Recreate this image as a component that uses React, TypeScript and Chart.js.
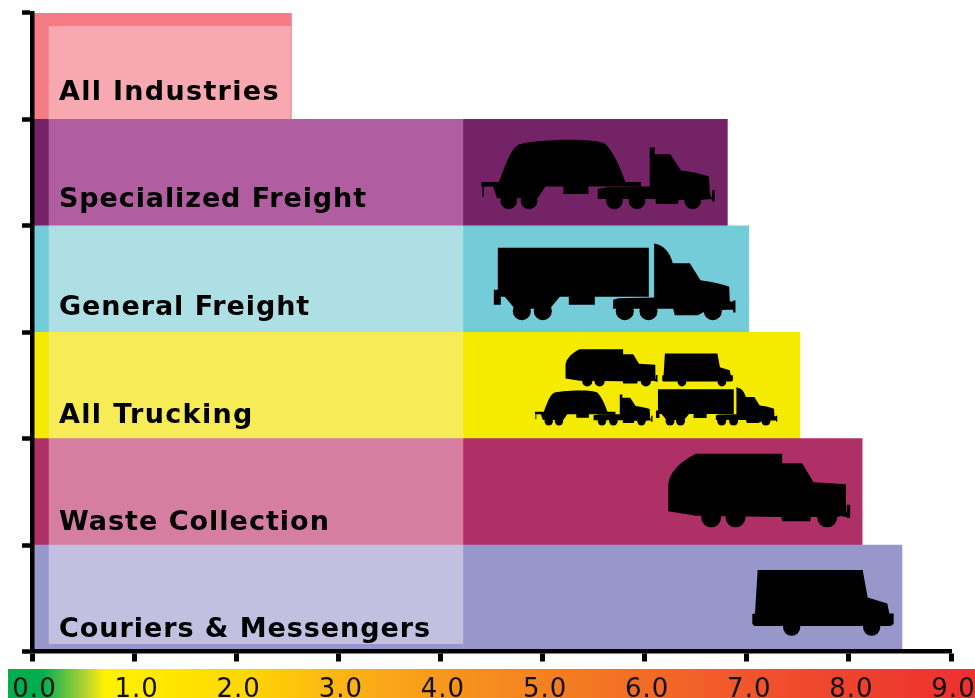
import React, { useEffect, useRef } from "react";
import { Chart, registerables } from "chart.js";

Chart.register(...registerables);

const categories = ["All Industries", "Specialized Freight", "General Freight", "All Trucking", "Waste Collection", "Couriers & Messengers"];
const rates = [2.54, 6.81, 7.02, 7.52, 8.13, 8.52];
const bandStart = [0.167, 0.167, 0.167, 0.167, 0.167, 0.167];
const bandEnd = [2.53, 4.22, 4.22, 4.22, 4.22, 4.22];
const darkColors = ["#F57C85", "#742366", "#74CCD9", "#F5EB00", "#AE3067", "#9797CB"];
const lightColors = ["#F7A8B0", "#B05E9F", "#AEDFE5", "#F7EC55", "#D57E9F", "#C2BFE0"];
const axisTicks = [0, 1, 2, 3, 4, 5, 6, 7, 8, 9];
const labelOffsets = [33.3, 34, 35.7, 37.4, 38.1, 38.8];
const labelSpacing = [1.3, 0.9, 0.93, 1.35, 1, 0.95];

const TANKER = `M115 187 C135 135 150 90 172 75 C200 60 400 50 435 72 C455 90 480 140 495 187 Z
M63 186 H542 V200 H63 Z M66 200 H71 V230 H66 Z M98 200 L110 235 L232 235 L255 200 Z M309 200 H384 V222 H309 Z
M568 83 H583 V103 H630 L662 152 C690 155 720 162 746 170 L748 215 L752 235 L738 238 L722 240 L655 240 L652 252 L587 252 L585 237 L412 237 L412 207 L440 202 L568 200 Z
M738 232 H758 V238 H738 Z M755 210 H763 V245 H755 Z`;
const TANKER_W = [[145, 243, 25], [206, 243, 25], [462, 243, 25], [530, 243, 25], [697, 243, 25]];
const BOX = `M114 384 H567 V531 H114 Z M102 510 H123 V555 H102 Z M135 531 L165 567 L270 567 L300 531 Z M327 531 H405 V555 H327 Z
M583 371 C610 375 630 395 639 430 L690 430 L722 481 C755 485 785 492 808 500 L810 545 L815 567 L800 570 L735 575 L714 586 L645 586 L640 567 L460 567 L460 540 L475 535 L583 533 Z
M800 545 H825 V570 H800 Z M820 542 H827 V578 H820 Z`;
const BOX_W = [[186, 574, 27], [249, 574, 27], [495, 574, 27], [566, 574, 27], [759, 574, 27]];
const GARBAGE = `M137 42 L396 42 L396 71 L456 71 L490 128 L587 134 L588 215 L592 225 L560 232 L482 232 L480 245 L396 245 L394 232 L138 228 L54 215 L54 135 C56 100 90 65 137 42 Z
M590 195 H600 V235 H590 Z M578 225 H595 V232 H578 Z`;
const GARBAGE_W = [[183, 233, 30], [256, 233, 30], [531, 233, 30]];
const VAN = `M323 390 L638 390 L653 472 L712 490 L718 520 L731 520 L731 552 L722 558 L313 558 L307 552 L307 522 L315 520 Z`;
const VAN_W = [[425, 561, 26], [665, 561, 26]];

// [row, outline, wheels, x from bar end, y from row top, scale]
const silhouettes: any[] = [
  [1, TANKER, TANKER_W, -267, 0.5, 1],
  [2, BOX, BOX_W, -289, -106, 1],
  [3, GARBAGE, GARBAGE_W, -243.4, 10, 0.505],
  [3, VAN, VAN_W, -188.8, -43.7, 0.5],
  [3, TANKER, TANKER_W, -275.5, 48.3, 0.504],
  [3, BOX, BOX_W, -161, -7.2, 0.502],
  [4, GARBAGE, GARBAGE_W, -212, 1, 1],
  [5, VAN, VAN_W, -252, -105, 1],
];

const gradientStops: [number, string][] = [
  [0, "#00AE4F"], [0.036, "#00AE4F"], [0.08, "#B5D334"], [0.1, "#FFF200"], [0.24, "#FFD800"],
  [0.34, "#FDB515"], [0.46, "#F7941D"], [0.58, "#F47B20"], [0.7, "#F26329"], [0.82, "#EF4A2D"], [1, "#ED2F30"],
];

const decorPlugin = {
  id: "decor",
  beforeDraw(chart: any) {
    const { ctx, width, height } = chart;
    const g = ctx.createLinearGradient(8, 0, width, 0);
    gradientStops.forEach(([p, c]) => g.addColorStop(p, c));
    ctx.fillStyle = g;
    ctx.fillRect(8, 669, width - 8, height - 669);
    ctx.letterSpacing = "1px";
  },
  afterDatasetsDraw(chart: any) {
    const { ctx, scales } = chart;
    const xs = scales.x;
    const ys = scales.y;
    const rowH = ys.getPixelForValue(1) - ys.getPixelForValue(0);
    const rowTop = (i: number) => ys.getPixelForValue(i) - rowH / 2;
    ctx.save();
    // offset of the pale panel: dark strip above the first row and below the last
    ctx.fillStyle = darkColors[0];
    ctx.fillRect(xs.getPixelForValue(0), rowTop(0), xs.getPixelForValue(rates[0]) - xs.getPixelForValue(0), 13);
    ctx.fillStyle = darkColors[5];
    ctx.fillRect(xs.getPixelForValue(0), rowTop(5) + rowH - 7.5, xs.getPixelForValue(bandEnd[5]) - xs.getPixelForValue(0), 7.5);

    ctx.fillStyle = "#000";
    silhouettes.forEach(([row, outline, wheels, dx, dy, s]) => {
      ctx.save();
      ctx.translate(xs.getPixelForValue(rates[row]) + dx, rowTop(row) + dy);
      ctx.scale(s / 3, s / 3);
      ctx.fill(new Path2D(outline));
      wheels.forEach(([cx, cy, r]: number[]) => {
        ctx.beginPath();
        ctx.arc(cx, cy, r, 0, Math.PI * 2);
        ctx.fill();
      });
      ctx.restore();
    });

    ctx.font = 'bold 27px "DejaVu Sans"';
    ctx.textBaseline = "alphabetic";
    ctx.textAlign = "left";
    categories.forEach((name, i) => {
      ctx.letterSpacing = `${labelSpacing[i]}px`;
      ctx.fillText(name, 59, ys.getPixelForValue(i) + labelOffsets[i]);
    });
    ctx.restore();
  },
};

export default function App() {
  const ref = useRef<HTMLCanvasElement>(null);
  useEffect(() => {
    const chart = new Chart(ref.current as HTMLCanvasElement, {
      type: "bar",
      data: {
        labels: categories,
        datasets: [
          { data: bandStart.map((s, i) => [s, bandEnd[i]]), backgroundColor: lightColors, order: 1, grouped: false } as any,
          { data: rates, backgroundColor: darkColors, order: 2, grouped: false } as any,
        ],
      },
      options: {
        indexAxis: "y",
        responsive: false,
        animation: false,
        layout: { padding: { top: 13, right: 24, left: 0, bottom: 0 } },
        datasets: { bar: { barPercentage: 1, categoryPercentage: 1 } },
        plugins: { legend: { display: false }, tooltip: { enabled: false } },
        scales: {
          x: {
            type: "linear",
            min: 0,
            max: 9,
            afterBuildTicks: (s: any) => { s.ticks = axisTicks.map((value) => ({ value })); },
            afterFit: (s: any) => { s.height = 46.5; s.paddingLeft = 0; s.paddingRight = 0; },
            border: { color: "#000", width: 4.5, z: 1 },
            grid: { drawOnChartArea: false, drawTicks: true, tickLength: 10, tickWidth: 5, tickColor: "#000", z: 1 },
            ticks: {
              z: 1,
              color: "#111",
              font: { family: "DejaVu Sans", size: 26 },
              maxRotation: 0,
              autoSkip: false,
              padding: 13,
              labelOffset: 2.5,
              callback: (v: any) => Number(v).toFixed(1),
            },
          },
          y: {
            type: "category",
            afterFit: (s: any) => { s.width = 32; },
            border: { color: "#000", width: 4.5, z: 1 },
            grid: { offset: true, drawOnChartArea: false, drawTicks: true, tickLength: 10, tickWidth: 4.5, tickColor: "#000", z: 1 },
            ticks: { display: false },
          },
        },
      } as any,
      plugins: [decorPlugin],
    });
    return () => chart.destroy();
  }, []);
  return (
    <div style={{ position: "absolute", left: 0, top: 0, width: 975, height: 698 }}>
      <canvas ref={ref} width={975} height={698} style={{ display: "block" }} />
    </div>
  );
}
